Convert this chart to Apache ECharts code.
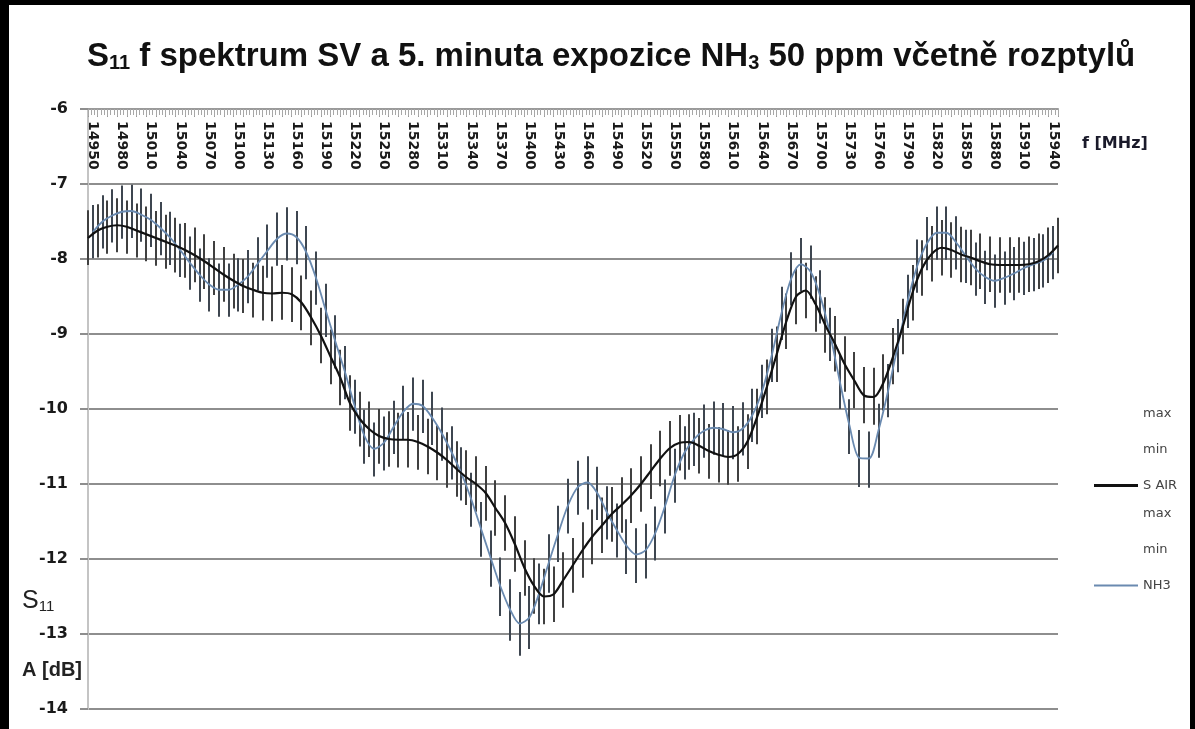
<!DOCTYPE html>
<html>
<head>
<meta charset="utf-8">
<script src="https://cdn.jsdelivr.net/npm/echarts@6/dist/echarts.min.js"></script>
<style>
html,body{margin:0;padding:0;background:#fff;}
#c{width:1195px;height:729px;}
</style>
</head>
<body>
<div id="c"></div>
<script>
// Frequency categories (MHz) of the labelled axis (NH3 group, centred in bands)
const freqLabels = ['14950','14960','14970','14980','14990','15000','15010','15020','15030','15040',
'15050','15060','15070','15080','15090','15100','15110','15120','15130','15140',
'15150','15160','15170','15180','15190','15200','15210','15220','15230','15240',
'15250','15260','15270','15280','15290','15300','15310','15320','15330','15340',
'15350','15360','15370','15380','15390','15400','15410','15420','15430','15440',
'15450','15460','15470','15480','15490','15500','15510','15520','15530','15540',
'15550','15560','15570','15580','15590','15600','15610','15620','15630','15640',
'15650','15660','15670','15680','15690','15700','15710','15720','15730','15740',
'15750','15760','15770','15780','15790','15800','15810','15820','15830','15840',
'15850','15860','15870','15880','15890','15900','15910','15920','15930','15940'];

// Frequency categories of the secondary (unlabelled, on-tick) axis used by S AIR
const airFreq = ['14950','14960','14970','14980','14990','15000','15010','15020','15030','15040',
'15050','15060','15070','15080','15090','15100','15110','15120','15130','15140',
'15150','15160','15170','15180','15190','15200','15210','15220','15230','15240',
'15250','15260','15270','15280','15290','15300','15310','15320','15330','15340',
'15350','15360','15370','15380','15390','15400','15410','15420','15430','15440',
'15450','15460','15470','15480','15490','15500','15510','15520','15530','15540',
'15550','15560','15570','15580','15590','15600','15610','15620','15630','15640',
'15650','15660','15670','15680','15690','15700','15710','15720','15730','15740',
'15750','15760','15770','15780','15790','15800','15810','15820','15830','15840',
'15850','15860','15870','15880','15890','15900','15910','15920','15930','15940','15950'];

const airMean = [-7.72,-7.62,-7.57,-7.55,-7.57,-7.62,-7.67,-7.72,-7.77,-7.82,
-7.88,-7.95,-8.03,-8.12,-8.21,-8.29,-8.36,-8.41,-8.45,-8.46,
-8.45,-8.47,-8.58,-8.78,-9.02,-9.30,-9.58,-9.92,-10.13,-10.27,
-10.36,-10.40,-10.41,-10.41,-10.44,-10.50,-10.58,-10.68,-10.80,-10.91,
-11.00,-11.12,-11.32,-11.52,-11.80,-12.12,-12.36,-12.50,-12.47,-12.28,
-12.08,-11.88,-11.70,-11.55,-11.40,-11.28,-11.15,-11.00,-10.83,-10.66,
-10.52,-10.45,-10.44,-10.49,-10.56,-10.61,-10.64,-10.60,-10.43,-10.10,
-9.70,-9.27,-8.83,-8.50,-8.42,-8.60,-8.88,-9.13,-9.40,-9.62,
-9.82,-9.84,-9.65,-9.30,-8.90,-8.45,-8.12,-7.93,-7.85,-7.88,
-7.94,-7.98,-8.03,-8.07,-8.08,-8.08,-8.08,-8.07,-8.03,-7.95,-7.82];

const airMax = [-7.35,-7.27,-7.22,-7.19,-7.22,-7.26,-7.30,-7.36,-7.41,-7.45,
-7.52,-7.58,-7.67,-7.76,-7.84,-7.93,-8.00,-8.05,-8.09,-8.10,
-8.08,-8.11,-8.22,-8.42,-8.65,-8.94,-9.21,-9.55,-9.77,-9.90,
-10.00,-10.03,-10.05,-10.04,-10.08,-10.13,-10.22,-10.31,-10.43,-10.55,
-10.63,-10.76,-10.95,-11.15,-11.43,-11.75,-11.99,-12.13,-12.10,-11.91,
-11.72,-11.51,-11.34,-11.18,-11.04,-10.91,-10.79,-10.63,-10.47,-10.29,
-10.16,-10.08,-10.07,-10.12,-10.20,-10.24,-10.28,-10.23,-10.07,-9.73,
-9.34,-8.90,-8.46,-8.13,-8.05,-8.23,-8.51,-8.76,-9.03,-9.24,
-9.44,-9.45,-9.27,-8.92,-8.53,-8.08,-7.75,-7.56,-7.48,-7.51,
-7.57,-7.61,-7.66,-7.70,-7.71,-7.71,-7.71,-7.70,-7.66,-7.58,-7.45];

const airMin = [-8.08,-7.98,-7.93,-7.91,-7.93,-7.98,-8.03,-8.09,-8.13,-8.18,
-8.25,-8.31,-8.40,-8.48,-8.57,-8.66,-8.72,-8.78,-8.82,-8.83,
-8.81,-8.84,-8.95,-9.15,-9.39,-9.67,-9.95,-10.29,-10.50,-10.64,
-10.73,-10.77,-10.78,-10.78,-10.81,-10.87,-10.95,-11.05,-11.17,-11.28,
-11.37,-11.49,-11.69,-11.89,-12.17,-12.49,-12.73,-12.87,-12.84,-12.65,
-12.45,-12.25,-12.07,-11.92,-11.77,-11.65,-11.52,-11.37,-11.20,-11.03,
-10.89,-10.82,-10.81,-10.86,-10.93,-10.98,-11.01,-10.97,-10.80,-10.47,
-10.07,-9.64,-9.20,-8.87,-8.79,-8.97,-9.25,-9.50,-9.77,-9.99,
-10.19,-10.21,-10.02,-9.67,-9.27,-8.82,-8.49,-8.30,-8.22,-8.25,
-8.31,-8.35,-8.40,-8.44,-8.45,-8.45,-8.45,-8.44,-8.40,-8.32,-8.19];

const nh3Mean = [-7.64,-7.50,-7.42,-7.37,-7.36,-7.41,-7.48,-7.59,-7.72,-7.88,
-8.05,-8.21,-8.34,-8.41,-8.41,-8.34,-8.23,-8.06,-7.89,-7.73,
-7.66,-7.71,-7.91,-8.25,-8.68,-9.10,-9.51,-9.96,-10.36,-10.53,
-10.45,-10.24,-10.04,-9.93,-9.96,-10.12,-10.33,-10.58,-10.86,-11.20,
-11.59,-11.98,-12.36,-12.67,-12.86,-12.78,-12.46,-12.05,-11.65,-11.28,
-11.04,-10.98,-11.12,-11.38,-11.61,-11.82,-11.94,-11.88,-11.65,-11.29,
-10.88,-10.58,-10.40,-10.29,-10.25,-10.27,-10.31,-10.26,-10.08,-9.76,
-9.28,-8.72,-8.26,-8.07,-8.17,-8.50,-9.00,-9.63,-10.22,-10.65,
-10.66,-10.28,-9.75,-9.15,-8.56,-8.09,-7.79,-7.65,-7.65,-7.78,
-7.96,-8.13,-8.24,-8.29,-8.25,-8.19,-8.12,-8.07,-8.02,-7.91];

const nh3Max = [-7.28,-7.15,-7.07,-7.02,-7.01,-7.06,-7.13,-7.24,-7.37,-7.53,
-7.70,-7.86,-7.99,-8.06,-8.06,-7.99,-7.88,-7.71,-7.54,-7.38,
-7.31,-7.36,-7.56,-7.90,-8.33,-8.75,-9.16,-9.61,-10.01,-10.18,
-10.10,-9.89,-9.69,-9.58,-9.61,-9.77,-9.98,-10.23,-10.51,-10.85,
-11.24,-11.62,-11.98,-12.27,-12.44,-12.36,-12.06,-11.67,-11.29,-10.93,
-10.69,-10.63,-10.77,-11.03,-11.26,-11.47,-11.59,-11.53,-11.30,-10.94,
-10.53,-10.23,-10.05,-9.94,-9.90,-9.92,-9.96,-9.91,-9.73,-9.41,
-8.93,-8.37,-7.91,-7.72,-7.82,-8.15,-8.65,-9.28,-9.87,-10.28,
-10.30,-9.93,-9.40,-8.80,-8.21,-7.74,-7.44,-7.30,-7.30,-7.43,
-7.61,-7.78,-7.89,-7.94,-7.90,-7.84,-7.77,-7.72,-7.67,-7.56];

const nh3Min = [-7.99,-7.86,-7.78,-7.73,-7.72,-7.77,-7.84,-7.95,-8.08,-8.24,
-8.41,-8.57,-8.70,-8.77,-8.77,-8.70,-8.59,-8.42,-8.25,-8.09,
-8.02,-8.07,-8.27,-8.61,-9.04,-9.46,-9.87,-10.33,-10.73,-10.90,
-10.82,-10.60,-10.40,-10.29,-10.32,-10.48,-10.69,-10.94,-11.22,-11.57,
-11.97,-12.37,-12.76,-13.09,-13.29,-13.20,-12.87,-12.45,-12.04,-11.66,
-11.41,-11.34,-11.48,-11.74,-11.98,-12.20,-12.32,-12.26,-12.02,-11.66,
-11.25,-10.94,-10.76,-10.65,-10.61,-10.63,-10.67,-10.62,-10.44,-10.12,
-9.64,-9.08,-8.62,-8.43,-8.53,-8.86,-9.36,-10.00,-10.60,-11.04,
-11.05,-10.65,-10.11,-9.51,-8.92,-8.45,-8.15,-8.01,-8.01,-8.14,
-8.32,-8.49,-8.60,-8.65,-8.61,-8.55,-8.48,-8.43,-8.38,-8.27];

const chart = echarts.init(document.getElementById('c'), null, {renderer:'canvas'});

function barData(mx, mn){
  return mx.map((v,i)=>[i, v, mn[i]]);
}
function errRender(color){
  return function(params, api){
    const i = api.value(0);
    const p1 = api.coord([i, api.value(1)]);
    const p2 = api.coord([i, api.value(2)]);
    const x = Math.round(p1[0]);
    return {type:'line', shape:{x1:x, y1:p1[1], x2:x, y2:p2[1]},
      style:{stroke:color, lineWidth:2}};
  };
}

const titleText = '{a|S}{s|11}{a| f spektrum SV a 5. minuta expozice NH}{s|3}{a| 50 ppm včetně rozptylů}';
const legendText = {fontFamily:'DejaVu Sans', fontSize:13, color:'#444'};

const option = {
  backgroundColor:'#ffffff',
  animation:false,
  title:{
    text:titleText, left:82, top:35,
    textStyle:{
      rich:{
        a:{fontFamily:'Liberation Sans', fontWeight:'bold', fontSize:33, color:'#111', verticalAlign:'bottom'},
        s:{fontFamily:'Liberation Sans', fontWeight:'bold', fontSize:20, color:'#111', verticalAlign:'bottom'}
      }
    }
  },
  legend:[
    {orient:'vertical', left:1089, top:402, itemWidth:44, itemHeight:3, itemGap:23,
     data:[{name:'max1', icon:'rect', itemStyle:{opacity:0}},
           {name:'min1', icon:'rect', itemStyle:{opacity:0}},
           {name:'S AIR', icon:'rect', itemStyle:{color:'#111'}}],
     formatter:function(n){return n==='max1'?'max':(n==='min1'?'min':n);},
     itemStyle:{borderWidth:0},
     textStyle:legendText},
    {orient:'vertical', left:1089, top:502, itemWidth:44, itemHeight:2, itemGap:23,
     data:[{name:'max2', icon:'rect', itemStyle:{opacity:0}},
           {name:'min2', icon:'rect', itemStyle:{opacity:0}},
           {name:'NH3', icon:'rect', itemStyle:{color:'#6a8ab0'}}],
     formatter:function(n){return n==='max2'?'max':(n==='min2'?'min':n);},
     itemStyle:{borderWidth:0},
     textStyle:legendText}
  ],
  grid:{left:88, top:109, width:970, height:600, containLabel:false},
  xAxis:[
    {type:'category', data:freqLabels, position:'top', boundaryGap:true,
     axisLine:{show:true, lineStyle:{color:'#9a9a9a', width:2}},
     axisTick:{show:true, inside:true, length:8, interval:0, lineStyle:{color:'#9a9a9a', width:1}},
     axisLabel:{show:true, inside:true, rotate:90, interval:2, margin:12,
       fontFamily:'DejaVu Sans', fontWeight:'bold', fontSize:14, color:'#1a1a1a'},
     splitLine:{show:false}},
    {type:'category', data:airFreq, position:'top', boundaryGap:false, show:false},
    {type:'value', position:'top', min:0, max:100, interval:1,
     axisLine:{show:false}, axisLabel:{show:false}, splitLine:{show:false},
     axisTick:{show:true, inside:true, length:7, lineStyle:{color:'#a8a8a8', width:1}},
     minorTick:{show:true, splitNumber:3, length:6, lineStyle:{color:'#a8a8a8', width:1}}}
  ],
  yAxis:{type:'value', min:-14, max:-6, interval:1,
    axisLine:{show:true, lineStyle:{color:'#c4c4c4', width:2}},
    axisTick:{show:true, length:8, lineStyle:{color:'#8e8e8e', width:2}},
    axisLabel:{margin:20, fontFamily:'DejaVu Sans', fontWeight:'bold', fontSize:16, color:'#1a1a1a'},
    splitLine:{show:true, lineStyle:{color:'#8e8e8e', width:2}}},
  series:[
    {type:'custom', name:'airBars', xAxisIndex:1, renderItem:errRender('#404040'),
     data:barData(airMax, airMin), z:1, silent:true},
    {type:'custom', name:'nh3Bars', xAxisIndex:0, renderItem:errRender('#3e4650'),
     data:barData(nh3Max, nh3Min), z:1, silent:true},
    {type:'line', name:'max1', xAxisIndex:1, data:airMax, showSymbol:false, symbol:'none', lineStyle:{opacity:0}, z:0},
    {type:'line', name:'min1', xAxisIndex:1, data:airMin, showSymbol:false, symbol:'none', lineStyle:{opacity:0}, z:0},
    {type:'line', name:'S AIR', xAxisIndex:1, data:airMean, showSymbol:false, symbol:'none', smooth:0.3,
     color:'#111', lineStyle:{color:'#111', width:2.2}, z:4},
    {type:'line', name:'max2', xAxisIndex:0, data:nh3Max, showSymbol:false, symbol:'none', lineStyle:{opacity:0}, z:0},
    {type:'line', name:'min2', xAxisIndex:0, data:nh3Min, showSymbol:false, symbol:'none', lineStyle:{opacity:0}, z:0},
    {type:'line', name:'NH3', xAxisIndex:0, data:nh3Mean, showSymbol:false, symbol:'none', smooth:0.3,
     color:'#6a8ab0', lineStyle:{color:'#6a8ab0', width:1.8}, z:3}
  ],
  graphic:[
    {type:'rect', left:0, top:0, shape:{width:9, height:729}, style:{fill:'#000'}},
    {type:'rect', left:0, top:0, shape:{width:1195, height:5}, style:{fill:'#000'}},
    {type:'rect', left:1190, top:0, shape:{width:5, height:729}, style:{fill:'#000'}},
    {type:'text', left:1082, top:136, style:{text:'f [MHz]', fontFamily:'DejaVu Sans', fontWeight:'bold', fontSize:16, fill:'#1a1a2a'}},
    {type:'text', left:22, top:589, style:{text:'{a|S}{s|11}', rich:{
      a:{fontFamily:'Liberation Sans', fontSize:25, fill:'#222', verticalAlign:'bottom'},
      s:{fontFamily:'Liberation Sans', fontSize:15, fill:'#222', verticalAlign:'bottom'}}}},
    {type:'text', left:22, top:660, style:{text:'A [dB]', fontFamily:'Liberation Sans', fontWeight:'bold', fontSize:20, fill:'#222'}}
  ]
};
chart.setOption(option);
</script>
</body>
</html>
